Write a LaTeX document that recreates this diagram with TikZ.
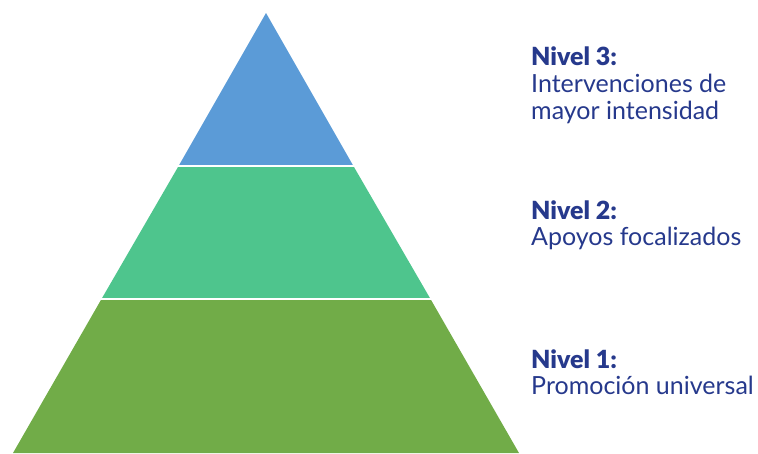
\documentclass[tikz,border=0pt]{standalone}
\usepackage{fontspec}
\setmainfont{Lato}[BoldFont={Lato Black}]
\definecolor{topblue}{HTML}{5B9BD7}
\definecolor{midgreen}{HTML}{4EC58D}
\definecolor{lowgreen}{HTML}{71AC48}
\definecolor{navy}{HTML}{26398C}
\begin{document}
\begin{tikzpicture}[x=1pt,y=-1pt,
  lvl/.style={anchor=base west,inner sep=0pt,text=navy,font=\fontsize{25}{28}\selectfont},
  lvlhead/.style={lvl,font=\fontsize{25}{28}\selectfont\bfseries},
  sep/.style={draw=white,line width=2pt}]
\useasboundingbox (0,0) rectangle (758,453);
% pyramid tiers
\fill[topblue] (266,13) -- (353.4,166) -- (178.6,166) -- cycle;
\fill[midgreen] (178.6,166) -- (353.4,166) -- (430.5,299) -- (101.5,299) -- cycle;
\fill[lowgreen] (101.5,299) -- (430.5,299) -- (519,453) -- (13,453) -- cycle;
\coordinate (s1l) at (170,166); \coordinate (s1r) at (362,166);
\coordinate (s2l) at (95,299); \coordinate (s2r) at (437,299);
\draw[sep] (s1l) -- (s1r);
\draw[sep] (s2l) -- (s2r);
% labels
\node[lvlhead] (n3) at (531,65) {Nivel 3:};
\node[lvl] (t3a) at (531,92) {Intervenciones de};
\node[lvl] (t3b) at (531,119) {mayor intensidad};
\node[lvlhead] (n2) at (531,219) {Nivel 2:};
\node[lvl] (t2) at (531,245) {Apoyos focalizados};
\node[lvlhead] (n1) at (531,368) {Nivel 1:};
\node[lvl] (t1) at (531,394) {Promoción universal};
\end{tikzpicture}
\end{document}
